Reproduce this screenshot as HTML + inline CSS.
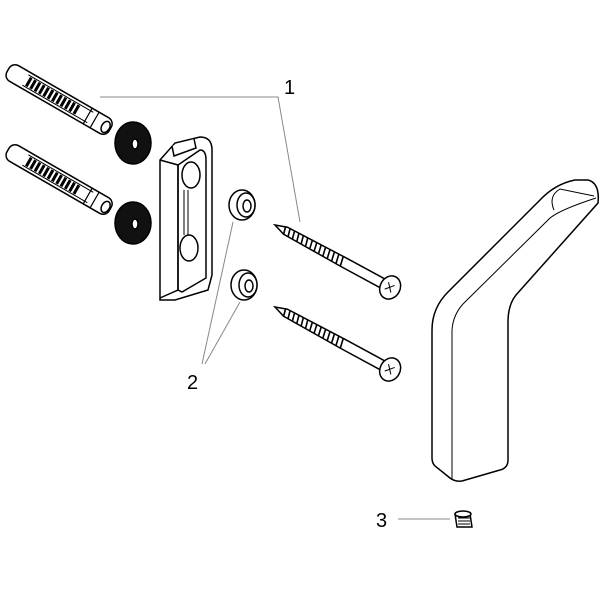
<!DOCTYPE html>
<html><head><style>body{margin:0;background:#fff}svg{display:block}</style></head><body>
<svg width="600" height="600" viewBox="0 0 600 600" xmlns="http://www.w3.org/2000/svg" font-family="Liberation Sans, sans-serif">
<g stroke="#000" fill="#fff" stroke-width="1.5">
<!-- dowels -->
<g transform="translate(8,70) rotate(30)">
<rect x="0" y="-9" width="118" height="18" rx="7"/>
<path d="M20,-6 L95,-6 M20,6 L95,6" stroke-width="1"/>
<g stroke-width="3"><path d="M24,-5v10M29,-5v10M34,-5v10M39,-5v10M44,-5v10M49,-5v10M54,-5v10M59,-5v10M64,-5v10M69,-5v10M74,-5v10M79,-5v10"/></g>
<path d="M92,-9v18M100,-9v18" stroke-width="1.2"/>
<ellipse cx="113" cy="0.5" rx="4" ry="6"/>
</g>
<g transform="translate(8,150) rotate(30)">
<rect x="0" y="-9" width="118" height="18" rx="7"/>
<path d="M20,-6 L95,-6 M20,6 L95,6" stroke-width="1"/>
<g stroke-width="3"><path d="M24,-5v10M29,-5v10M34,-5v10M39,-5v10M44,-5v10M49,-5v10M54,-5v10M59,-5v10M64,-5v10M69,-5v10M74,-5v10M79,-5v10"/></g>
<path d="M92,-9v18M100,-9v18" stroke-width="1.2"/>
<ellipse cx="113" cy="0.5" rx="4" ry="6"/>
</g>
<!-- washers -->
<ellipse cx="133" cy="143" rx="18" ry="21" fill="#111"/>
<ellipse cx="135" cy="144" rx="3" ry="5" fill="#fff"/>
<ellipse cx="133" cy="223" rx="18" ry="21" fill="#111"/>
<ellipse cx="135" cy="224" rx="3" ry="5" fill="#fff"/>
<!-- bracket -->
<path d="M160,160 L175,143 L200,137 Q212,137 212,150 L212,275 L208,290 L175,300 L160,300 Z"/>
<path d="M178,165 L200,150 Q206,150 206,160 L206,278 L182,292 L178,290 Z"/>
<path d="M160,160 L178,165 L178,290 L160,298" fill="none"/>
<path d="M172,146 L174,156 L196,148 L194,139" />
<ellipse cx="191" cy="175" rx="9" ry="13"/>
<ellipse cx="189" cy="248" rx="9" ry="13"/>
<path d="M184,190 L184,235 M188,190 L188,235" stroke-width="1"/>
<!-- rings -->
<ellipse cx="242" cy="205" rx="13" ry="15"/><ellipse cx="246" cy="205" rx="9" ry="12"/><ellipse cx="247" cy="206" rx="4" ry="6"/>
<ellipse cx="244" cy="285" rx="13" ry="15"/><ellipse cx="248" cy="285" rx="9" ry="12"/><ellipse cx="249" cy="286" rx="4" ry="6"/>
<!-- screws -->
<g transform="translate(275,225) rotate(28.5)">
<path d="M0,0 L12,-4 L78,-5 L125,-5 L125,5 L78,5 L12,4 Z"/>
<path d="M10,-4l2,8M15,-4l2,8M20,-4l2,8M25,-4l2,8M30,-4l2,8M35,-4l2,8M40,-5l2,10M45,-5l2,10M50,-5l2,10M55,-5l2,10M60,-5l2,10M65,-5l2,10M70,-5l2,10M75,-5l2,10" stroke-width="1.6"/>
<ellipse cx="131" cy="0" rx="10" ry="12"/>
<path d="M127,-4l7,8M134,-4l-7,8" stroke-width="1"/>
</g>
<g transform="translate(275,307) rotate(28.5)">
<path d="M0,0 L12,-4 L78,-5 L125,-5 L125,5 L78,5 L12,4 Z"/>
<path d="M10,-4l2,8M15,-4l2,8M20,-4l2,8M25,-4l2,8M30,-4l2,8M35,-4l2,8M40,-5l2,10M45,-5l2,10M50,-5l2,10M55,-5l2,10M60,-5l2,10M65,-5l2,10M70,-5l2,10M75,-5l2,10" stroke-width="1.6"/>
<ellipse cx="131" cy="0" rx="10" ry="12"/>
<path d="M127,-4l7,8M134,-4l-7,8" stroke-width="1"/>
</g>
<!-- hook -->
<path d="M432,458 L432,330 Q432,308 448,292 L540,200 Q555,184 575,180 L588,180 Q600,183 598,203 L516,295 Q508,305 508,322 L508,460 Q508,468 500,470 L462,481 Q455,482 450,478 L435,466 Q432,463 432,458 Z"/>
<path d="M452,479 L452,330 Q453,315 463,304 L548,220 Q556,211 596,198" fill="none" stroke-width="1"/>
<path d="M554,210 Q548,196 560,189 L594,196" fill="none" stroke-width="1"/>
<!-- set screw -->
<path d="M455,514 L470,514 L472,527 L457,527 Z"/>
<ellipse cx="463" cy="514" rx="8" ry="3"/>
<path d="M458,518h12M458,521h12M458,524h12" stroke-width="1"/>
</g>
<!-- leaders -->
<g stroke="#888" stroke-width="1" fill="none">
<path d="M100,97 L278,97 L300,222"/>
<path d="M202,364 L233,222"/>
<path d="M205,364 L240,302"/>
<path d="M398,519 L450,519"/>
</g>
<g font-size="20" fill="#000">
<text x="284" y="94">1</text>
<text x="187" y="389">2</text>
<text x="376" y="527">3</text>
</g>
</svg>
</body></html>
